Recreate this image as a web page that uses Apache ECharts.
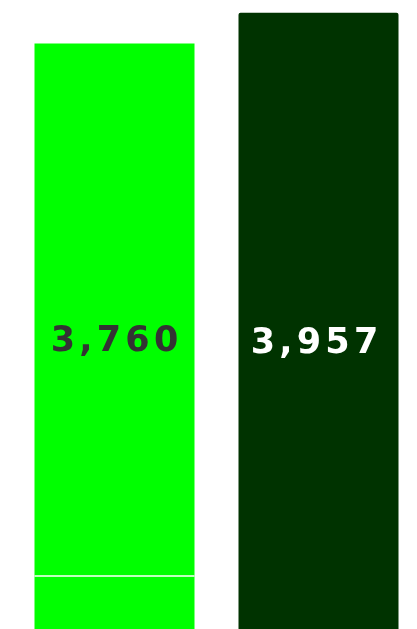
<!DOCTYPE html>
<html>
<head>
<meta charset="utf-8">
<style>html,body{margin:0;padding:0;background:#fff;overflow:hidden;}#chart{width:421px;height:629px;}</style>
<script src="https://cdn.jsdelivr.net/npm/echarts@6/dist/echarts.min.js"></script>
</head>
<body>
<div id="chart"></div>
<script>
const categories = ['A', 'B'];
const totals = [3760, 3957];
const baseSegment = [340, 0];
const barColors = ['#00ff00', '#003300'];
const labelColors = ['#333333', '#ffffff'];

const chart = echarts.init(document.getElementById('chart'), null, {renderer: 'canvas'});
const fmt = v => v.toLocaleString('en-US');
const spaced = s => s.split('').map(ch => '{c|' + ch + '}').join('');

const labelStyle = (i, y, dx) => ({
  show: true,
  position: ['50%', y],
  offset: [dx, 0],
  align: 'center',
  verticalAlign: 'middle',
  formatter: () => spaced(fmt(totals[i])),
  rich: {
    c: {
      color: labelColors[i],
      fontFamily: 'DejaVu Sans',
      fontWeight: 'bold',
      fontSize: 35,
      padding: [0, 2.1, 0, 2.1]
    }
  }
});

const BAR_W = 160;

chart.setOption({
  animation: false,
  grid: {left: 12.5, right: 0.5, top: 6, bottom: 0, containLabel: false},
  xAxis: {type: 'category', data: categories, show: false},
  yAxis: {type: 'value', min: 0, max: 4000, show: false, splitLine: {show: false}},
  series: [
    {
      type: 'bar', stack: 's', barWidth: BAR_W, barGap: '0%',
      data: [
        {value: baseSegment[0], itemStyle: {color: barColors[0]}},
        {value: baseSegment[1], itemStyle: {color: barColors[1]}}
      ]
    },
    {
      type: 'bar', stack: 's', barWidth: BAR_W,
      data: [
        {value: totals[0] - baseSegment[0], itemStyle: {color: barColors[0]}, label: labelStyle(0, 299, 0)},
        {value: totals[1] - baseSegment[1], itemStyle: {color: barColors[1], borderRadius: [2, 2, 0, 0]}, label: labelStyle(1, 331, -4)}
      ]
    },
    {
      type: 'custom', z: 5, silent: true,
      data: categories.map((c, i) => [i, baseSegment[i]]).filter(d => d[1] > 0),
      renderItem: (params, api) => {
        const p = api.coord([api.value(0), api.value(1)]);
        return {
          type: 'line',
          shape: {x1: p[0] - BAR_W / 2, y1: p[1], x2: p[0] + BAR_W / 2, y2: p[1]},
          style: {stroke: '#ffffff', lineWidth: 1.5}
        };
      }
    }
  ]
});
</script>
</body>
</html>
